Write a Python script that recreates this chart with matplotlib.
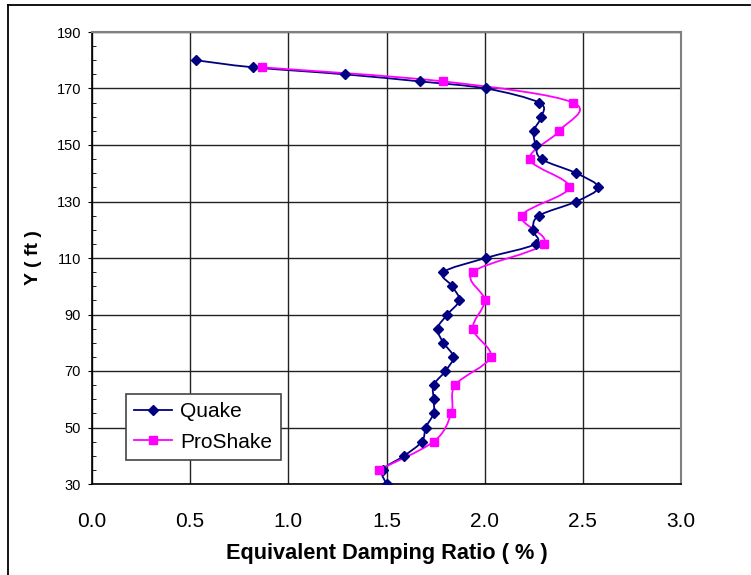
import matplotlib.pyplot as plt
import numpy as np
from matplotlib.path import Path
from matplotlib.patches import PathPatch
from matplotlib.lines import Line2D

plt.rcParams["font.family"] = ["Liberation Sans", "DejaVu Sans"]

# values
quake_y = [30, 35, 40, 45, 50, 55, 60, 65, 70, 75, 80, 85, 90, 95, 100, 105,
           110, 115, 120, 125, 130, 135, 140, 145, 150, 155, 160, 165, 170,
           172.5, 175, 177.5, 180]
quake_damping = [1.50, 1.48, 1.59, 1.68, 1.70, 1.74, 1.74, 1.74, 1.80, 1.84,
                 1.79, 1.76, 1.81, 1.87, 1.835, 1.79, 2.005, 2.26, 2.245,
                 2.277, 2.467, 2.578, 2.467, 2.29, 2.26, 2.25, 2.289, 2.277,
                 2.007, 1.67, 1.29, 0.82, 0.53]

proshake_y = [35, 45, 55, 65, 75, 85, 95, 105, 115, 125, 135, 145, 155, 165,
              172.5, 177.5]
proshake_damping = [1.46, 1.74, 1.83, 1.85, 2.03, 1.94, 2.00, 1.94, 2.30,
                    2.19, 2.43, 2.23, 2.38, 2.45, 1.79, 0.865]

x_ticks = [0.0, 0.5, 1.0, 1.5, 2.0, 2.5, 3.0]
y_ticks = [30, 50, 70, 90, 110, 130, 150, 170, 190]


def smooth_path(xs, ys):
    """Excel style smoothed line: Catmull-Rom segments as cubic Beziers."""
    pts = np.column_stack([xs, ys]).astype(float)
    n = len(pts)
    verts = [pts[0]]
    codes = [Path.MOVETO]
    for i in range(n - 1):
        p0 = pts[max(i - 1, 0)]
        p1 = pts[i]
        p2 = pts[i + 1]
        p3 = pts[min(i + 2, n - 1)]
        verts += [p1 + (p2 - p0) / 6, p2 - (p3 - p1) / 6, p2]
        codes += [Path.CURVE4] * 3
    return Path(verts, codes)


fig = plt.figure(figsize=(7.51, 5.75), dpi=100)
ax = fig.add_axes([92 / 751, 1 - 484 / 575, 589 / 751, 452 / 575])

navy = "#000080"
magenta = "#FF00FF"

ax.add_patch(PathPatch(smooth_path(quake_damping, quake_y), fill=False,
                       edgecolor=navy, lw=1.3, zorder=3))
ax.add_patch(PathPatch(smooth_path(proshake_damping, proshake_y), fill=False,
                       edgecolor=magenta, lw=1.3, zorder=3))
ax.plot(quake_damping, quake_y, ls="none", marker="D", ms=5.4,
        color=navy, zorder=4)
ax.plot(proshake_damping, proshake_y, ls="none", marker="s", ms=6,
        color=magenta, zorder=4)

ax.set_xlim(0, 3)
ax.set_ylim(30, 190)
ax.set_xticks(x_ticks)
ax.set_xticklabels([f"{v:.1f}" for v in x_ticks])
ax.set_yticks(y_ticks)
ax.set_yticks(np.arange(30, 191, 5), minor=True)

ax.grid(True, which="major", color="#222222", lw=1)
ax.set_axisbelow(True)

ax.tick_params(axis="x", length=0, pad=20, labelsize=15)
ax.tick_params(axis="y", which="major", direction="out", length=3,
               labelsize=10.5, pad=5)
ax.tick_params(axis="y", which="minor", direction="in", length=3)

for side in ["left", "bottom"]:
    ax.spines[side].set_color("black")
    ax.spines[side].set_linewidth(1.2)
for side in ["top", "right"]:
    ax.spines[side].set_color("#808080")
    ax.spines[side].set_linewidth(1.5)

ax.set_xlabel("Equivalent Damping Ratio ( % )", fontsize=15.7,
              fontweight="bold", labelpad=9)
ax.set_ylabel("Y ( ft )", fontsize=14, fontweight="bold", labelpad=10)

handles = [
    Line2D([], [], color=navy, lw=1.3, marker="D", ms=5.4),
    Line2D([], [], color=magenta, lw=1.3, marker="s", ms=6),
]
leg = ax.legend(handles, ["Quake", "ProShake"], loc="lower left",
                bbox_to_anchor=(34 / 589, 24 / 452), borderaxespad=0,
                fontsize=15, fancybox=False, framealpha=1, edgecolor="#444444",
                handlelength=1.8, handletextpad=0.4, labelspacing=0.55,
                borderpad=0.4)
leg.get_frame().set_linewidth(1.2)

# outer chart border
fig.add_artist(Line2D([7.5 / 751, 7.5 / 751], [0, 1 - 5 / 575],
                      transform=fig.transFigure, color="black", lw=1.3))
fig.add_artist(Line2D([7.5 / 751, 750 / 751], [1 - 5 / 575, 1 - 5 / 575],
                      transform=fig.transFigure, color="black", lw=1.3))

fig.savefig("out.png", dpi=100)
